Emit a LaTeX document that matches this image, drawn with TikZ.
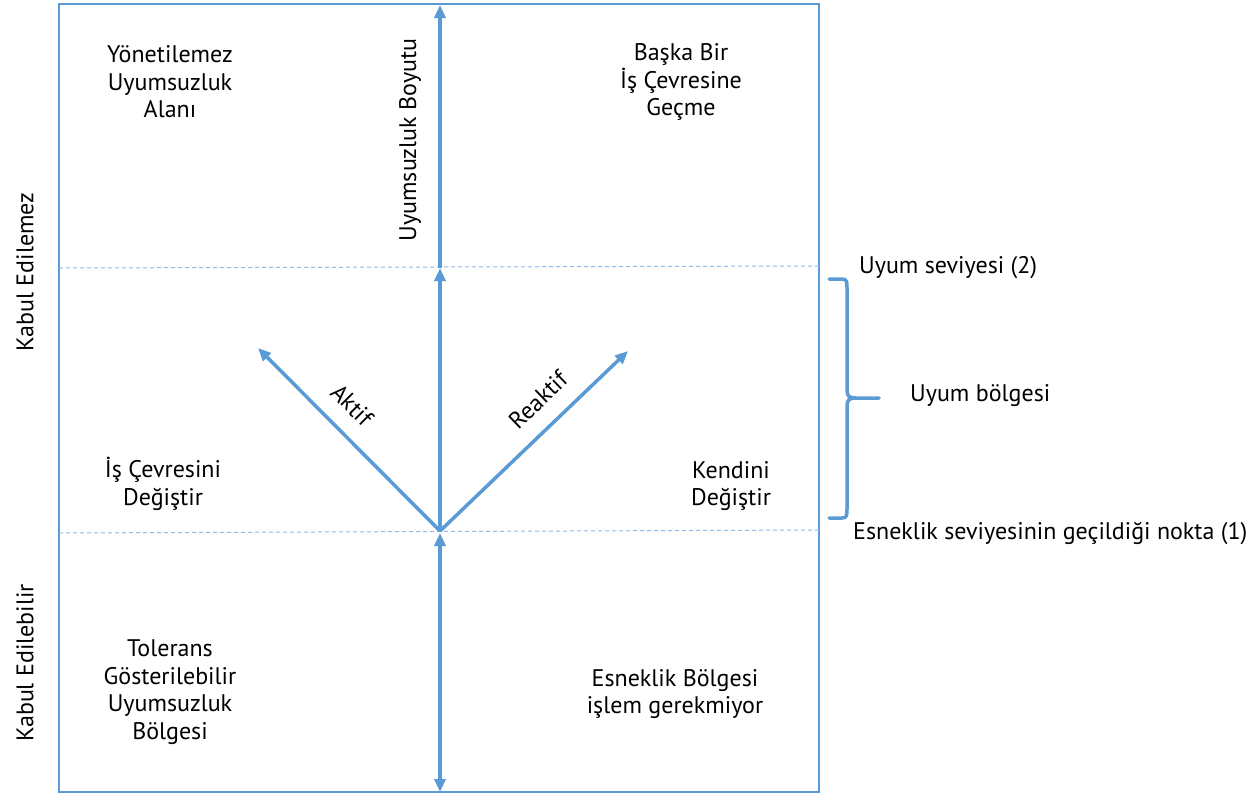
\documentclass[tikz,border=0pt]{standalone}
\usepackage{fontspec}
\setmainfont{PT Sans}
\usetikzlibrary{arrows.meta}
\definecolor{axblue}{HTML}{5B9BD5}
\definecolor{dashblue}{HTML}{8FBBE6}
\begin{document}
\begin{tikzpicture}[x=1pt,y=-1pt,
  lbl/.style={font=\fontsize{24}{27.5}\selectfont, align=center, text=black, inner sep=0pt},
  side/.style={font=\fontsize{24}{27.5}\selectfont, text=black, inner sep=0pt},
  frame/.style={draw=axblue, line width=2pt},
  guide/.style={draw=dashblue, line width=1pt, dash pattern=on 4pt off 3pt},
  axis/.style={draw=axblue, line width=3.5pt, -{Triangle[length=13pt,width=11pt]}},
  dbl/.style={draw=axblue, line width=3.5pt, {Triangle[length=13pt,width=11pt]}-{Triangle[length=13pt,width=11pt]}},
  brace/.style={draw=axblue, line width=3.5pt, line cap=round}]
\useasboundingbox (0,0) rectangle (1255,795);
\fill[white] (0,0) rectangle (1255,795);
% frame
\draw[frame] (59,4) rectangle (819,792);
% guide lines
\coordinate (g2l) at (59,268);
\coordinate (g2r) at (822,266);
\coordinate (g1l) at (59,533);
\coordinate (g1r) at (822,530);
\draw[guide] (g2l) -- (g2r);
\draw[guide] (g1l) -- (g1r);
% axis coordinates
\coordinate (O) at (440,531);
\coordinate (M) at (440,268);
\coordinate (T) at (440,5);
\coordinate (B) at (440,792);
\coordinate (L) at (258,348);
\coordinate (R) at (628,351);
\draw[axis] (O) -- (M);
\draw[axis] (M) -- (T);
\draw[dbl] ([yshift=-2pt]O) -- (B);
\draw[axis] (O) -- (L);
\draw[axis] (O) -- (R);
% brace
\draw[brace] (829,279) -- (842,279) .. controls (847,279) and (847,282) .. (847,288)
  -- (847,390) .. controls (847,396) and (849,398) .. (856,398) -- (879,398);
\draw[brace] (829,518) -- (842,518) .. controls (847,518) and (847,515) .. (847,509)
  -- (847,406) .. controls (847,400) and (849,398) .. (856,398);
% labels
\node[lbl] (ya) at (170,82) {Yönetilemez\\Uyumsuzluk\\Alanı};
\node[lbl] (bb) at (681,82) {Başka Bir\\İş Çevresine\\Geçme};
\node[lbl] (ic) at (163,484) {İş Çevresini\\Değiştir};
\node[lbl] (kd) at (731,486) {Kendini\\Değiştir};
\node[lbl] (tg) at (170,692) {Tolerans\\Gösterilebilir\\Uyumsuzluk\\Bölgesi};
\node[lbl] (eb) at (675,694) {Esneklik Bölgesi\\işlem gerekmiyor};
\node[lbl, rotate=90] (ub) at (410,140) {Uyumsuzluk Boyutu};
\node[lbl, rotate=-45] (ak) at (352,405) {Aktif};
\node[lbl, rotate=44] (re) at (538,400) {Reaktif};
\node[lbl, rotate=90] (ke) at (25,272) {Kabul Edilemez};
\node[lbl, rotate=90] (kb) at (25,663) {Kabul Edilebilir};
\node[side, anchor=west] (us) at (859,268) {Uyum seviyesi (2)};
\node[side, anchor=west] (ubg) at (910,396) {Uyum bölgesi};
\node[side, anchor=west] (es) at (853,533) {Esneklik seviyesinin geçildiği nokta (1)};
\end{tikzpicture}
\end{document}
